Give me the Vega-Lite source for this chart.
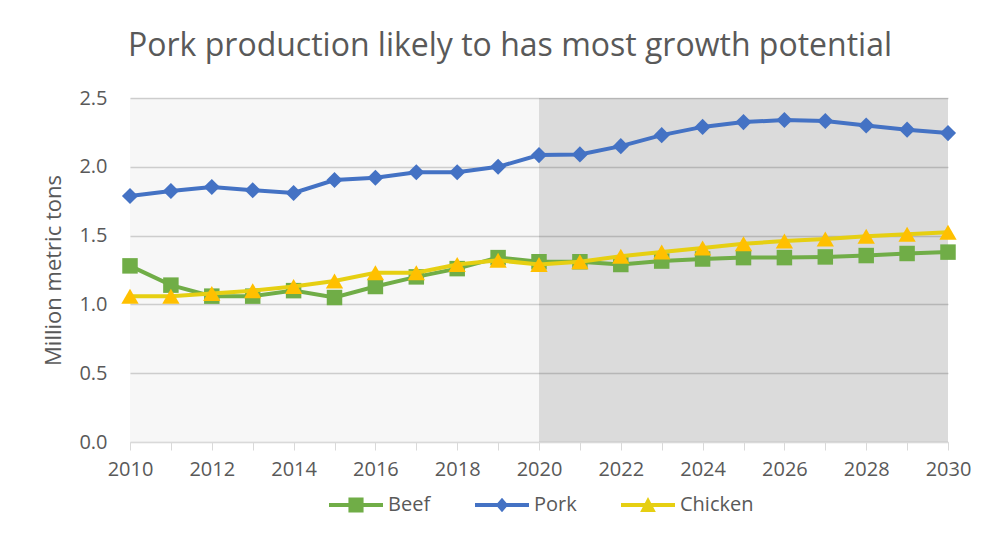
{
  "$schema": "https://vega.github.io/schema/vega-lite/v6.json",
  "width": 818,
  "height": 344,
  "autosize": {"type": "none"},
  "padding": {"left": 130, "top": 98, "right": 45, "bottom": 96},
  "background": "white",
  "config": {
    "view": {"stroke": null},
    "font": "Open Sans",
    "axis": {"labelFont": "Open Sans", "titleFont": "Open Sans"},
    "legend": {"labelFont": "Open Sans"}
  },
  "title": {
    "text": "Pork production likely to has most growth potential",
    "fontSize": 32,
    "font": "Open Sans",
    "fontWeight": "normal",
    "color": "#595959",
    "anchor": "middle",
    "frame": "group",
    "dx": -29,
    "offset": 25
  },
  "datasets": {
    "meat": [
      {"series": "Beef", "year": 2010, "value": 1.28},
      {"series": "Beef", "year": 2011, "value": 1.14},
      {"series": "Beef", "year": 2012, "value": 1.06},
      {"series": "Beef", "year": 2013, "value": 1.06},
      {"series": "Beef", "year": 2014, "value": 1.10},
      {"series": "Beef", "year": 2015, "value": 1.05},
      {"series": "Beef", "year": 2016, "value": 1.13},
      {"series": "Beef", "year": 2017, "value": 1.20},
      {"series": "Beef", "year": 2018, "value": 1.26},
      {"series": "Beef", "year": 2019, "value": 1.34},
      {"series": "Beef", "year": 2020, "value": 1.31},
      {"series": "Beef", "year": 2021, "value": 1.31},
      {"series": "Beef", "year": 2022, "value": 1.29},
      {"series": "Beef", "year": 2023, "value": 1.315},
      {"series": "Beef", "year": 2024, "value": 1.33},
      {"series": "Beef", "year": 2025, "value": 1.34},
      {"series": "Beef", "year": 2026, "value": 1.34},
      {"series": "Beef", "year": 2027, "value": 1.345},
      {"series": "Beef", "year": 2028, "value": 1.355},
      {"series": "Beef", "year": 2029, "value": 1.37},
      {"series": "Beef", "year": 2030, "value": 1.38},
      {"series": "Pork", "year": 2010, "value": 1.788},
      {"series": "Pork", "year": 2011, "value": 1.824},
      {"series": "Pork", "year": 2012, "value": 1.853},
      {"series": "Pork", "year": 2013, "value": 1.83},
      {"series": "Pork", "year": 2014, "value": 1.81},
      {"series": "Pork", "year": 2015, "value": 1.904},
      {"series": "Pork", "year": 2016, "value": 1.92},
      {"series": "Pork", "year": 2017, "value": 1.96},
      {"series": "Pork", "year": 2018, "value": 1.96},
      {"series": "Pork", "year": 2019, "value": 2.0},
      {"series": "Pork", "year": 2020, "value": 2.085},
      {"series": "Pork", "year": 2021, "value": 2.09},
      {"series": "Pork", "year": 2022, "value": 2.15},
      {"series": "Pork", "year": 2023, "value": 2.23},
      {"series": "Pork", "year": 2024, "value": 2.29},
      {"series": "Pork", "year": 2025, "value": 2.325},
      {"series": "Pork", "year": 2026, "value": 2.34},
      {"series": "Pork", "year": 2027, "value": 2.333},
      {"series": "Pork", "year": 2028, "value": 2.30},
      {"series": "Pork", "year": 2029, "value": 2.27},
      {"series": "Pork", "year": 2030, "value": 2.245},
      {"series": "Chicken", "year": 2010, "value": 1.06},
      {"series": "Chicken", "year": 2011, "value": 1.06},
      {"series": "Chicken", "year": 2012, "value": 1.08},
      {"series": "Chicken", "year": 2013, "value": 1.10},
      {"series": "Chicken", "year": 2014, "value": 1.13},
      {"series": "Chicken", "year": 2015, "value": 1.17},
      {"series": "Chicken", "year": 2016, "value": 1.23},
      {"series": "Chicken", "year": 2017, "value": 1.23},
      {"series": "Chicken", "year": 2018, "value": 1.29},
      {"series": "Chicken", "year": 2019, "value": 1.32},
      {"series": "Chicken", "year": 2020, "value": 1.29},
      {"series": "Chicken", "year": 2021, "value": 1.31},
      {"series": "Chicken", "year": 2022, "value": 1.35},
      {"series": "Chicken", "year": 2023, "value": 1.38},
      {"series": "Chicken", "year": 2024, "value": 1.41},
      {"series": "Chicken", "year": 2025, "value": 1.44},
      {"series": "Chicken", "year": 2026, "value": 1.46},
      {"series": "Chicken", "year": 2027, "value": 1.475},
      {"series": "Chicken", "year": 2028, "value": 1.495},
      {"series": "Chicken", "year": 2029, "value": 1.51},
      {"series": "Chicken", "year": 2030, "value": 1.525}
    ],
    "periods": [
      {"period": "history", "start": 2010, "end": 2020},
      {"period": "projection", "start": 2020, "end": 2030}
    ]
  },
  "layer": [
    {
      "data": {"name": "periods"},
      "mark": {"type": "rect"},
      "encoding": {
        "x": {
          "field": "start",
          "type": "quantitative",
          "scale": {"domain": [2010, 2030], "nice": false, "zero": false},
          "axis": {
            "title": null,
            "values": [2010,2011,2012,2013,2014,2015,2016,2017,2018,2019,2020,2021,2022,2023,2024,2025,2026,2027,2028,2029,2030],
            "labelExpr": "datum.value % 2 == 0 ? datum.label : ''",
            "format": "d",
            "grid": false,
            "domainColor": "#d9d9d9",
            "tickColor": "#d9d9d9",
            "tickSize": 8,
            "labelFontSize": 20,
            "labelColor": "#595959",
            "labelPadding": 9,
            "labelFlush": false,
            "labelOverlap": false
          }
        },
        "x2": {"field": "end"},
        "y": {
          "datum": 0,
          "type": "quantitative",
          "scale": {"domain": [0, 2.5], "nice": false},
          "axis": {
            "title": "Million metric tons",
            "titleFontSize": 22,
            "titleFontWeight": "normal",
            "titleColor": "#595959",
            "titlePadding": 13,
            "values": [0, 0.5, 1, 1.5, 2, 2.5],
            "format": ".1f",
            "domain": false,
            "ticks": false,
            "grid": true,
            "gridColor": "#d4d4d4",
            "gridWidth": 1.5,
            "labelFontSize": 20,
            "labelColor": "#595959",
            "labelPadding": 23
          }
        },
        "y2": {"datum": 2.5},
        "fill": {
          "field": "period",
          "type": "nominal",
          "scale": {"domain": ["history", "projection"], "range": ["#000000", "#000000"]},
          "legend": null
        },
        "fillOpacity": {
          "field": "period",
          "type": "nominal",
          "scale": {"domain": ["history", "projection"], "range": [0.03, 0.14]},
          "legend": null
        }
      }
    },
    {
      "data": {"name": "meat"},
      "transform": [{"filter": "datum.series == 'Beef'"}],
      "encoding": {
        "x": {"field": "year", "type": "quantitative"},
        "y": {"field": "value", "type": "quantitative"}
      },
      "layer": [
        {"mark": {"type": "line", "color": "#70AD47", "strokeWidth": 4}},
        {"mark": {"type": "point", "shape": "square", "filled": true, "opacity": 1, "color": "#70AD47", "size": 240}}
      ]
    },
    {
      "data": {"name": "meat"},
      "transform": [{"filter": "datum.series == 'Pork'"}],
      "encoding": {
        "x": {"field": "year", "type": "quantitative"},
        "y": {"field": "value", "type": "quantitative"}
      },
      "layer": [
        {"mark": {"type": "line", "color": "#4472C4", "strokeWidth": 4}},
        {"mark": {"type": "point", "shape": "diamond", "filled": true, "opacity": 1, "color": "#4472C4", "size": 260}}
      ]
    },
    {
      "data": {"name": "meat"},
      "transform": [{"filter": "datum.series == 'Chicken'"}],
      "encoding": {
        "x": {"field": "year", "type": "quantitative"},
        "y": {"field": "value", "type": "quantitative"}
      },
      "layer": [
        {"mark": {"type": "line", "color": "#E6CF12", "strokeWidth": 4}},
        {"mark": {"type": "point", "shape": "triangle-up", "filled": true, "opacity": 1, "color": "#FFC000", "size": 300}}
      ]
    },
    {
      "data": {"name": "meat"},
      "transform": [{"filter": "datum.year < 0"}],
      "mark": {"type": "point", "filled": true, "opacity": 1},
      "encoding": {
        "x": {"field": "year", "type": "quantitative"},
        "y": {"field": "value", "type": "quantitative"},
        "color": {
          "field": "series",
          "type": "nominal",
          "scale": {"domain": ["Beef", "Pork", "Chicken"], "range": ["#70AD47", "#4472C4", "#E6CF12"]},
          "legend": {
            "orient": "none",
            "legendX": 199,
            "legendY": 380,
            "direction": "horizontal",
            "title": null,
            "labelFontSize": 20,
            "labelColor": "#595959",
            "symbolSize": 2916,
            "symbolStrokeWidth": 0,
            "symbolOpacity": 1,
            "labelOffset": 5,
            "columnPadding": 44
          }
        },
        "shape": {
          "field": "series",
          "type": "nominal",
          "scale": {
            "domain": ["Beef", "Pork", "Chicken"],
            "range": [
              "M-1,-0.075H1V0.075H-1Z M-0.28,-0.28H0.28V0.28H-0.28Z",
              "M-1,-0.075H1V0.075H-1Z M0,-0.27L0.23,0L0,0.27L-0.23,0Z",
              "M-1,-0.075H1V0.075H-1Z M0,-0.3L0.29,0.26H-0.29Z"
            ]
          }
        }
      }
    }
  ]
}
